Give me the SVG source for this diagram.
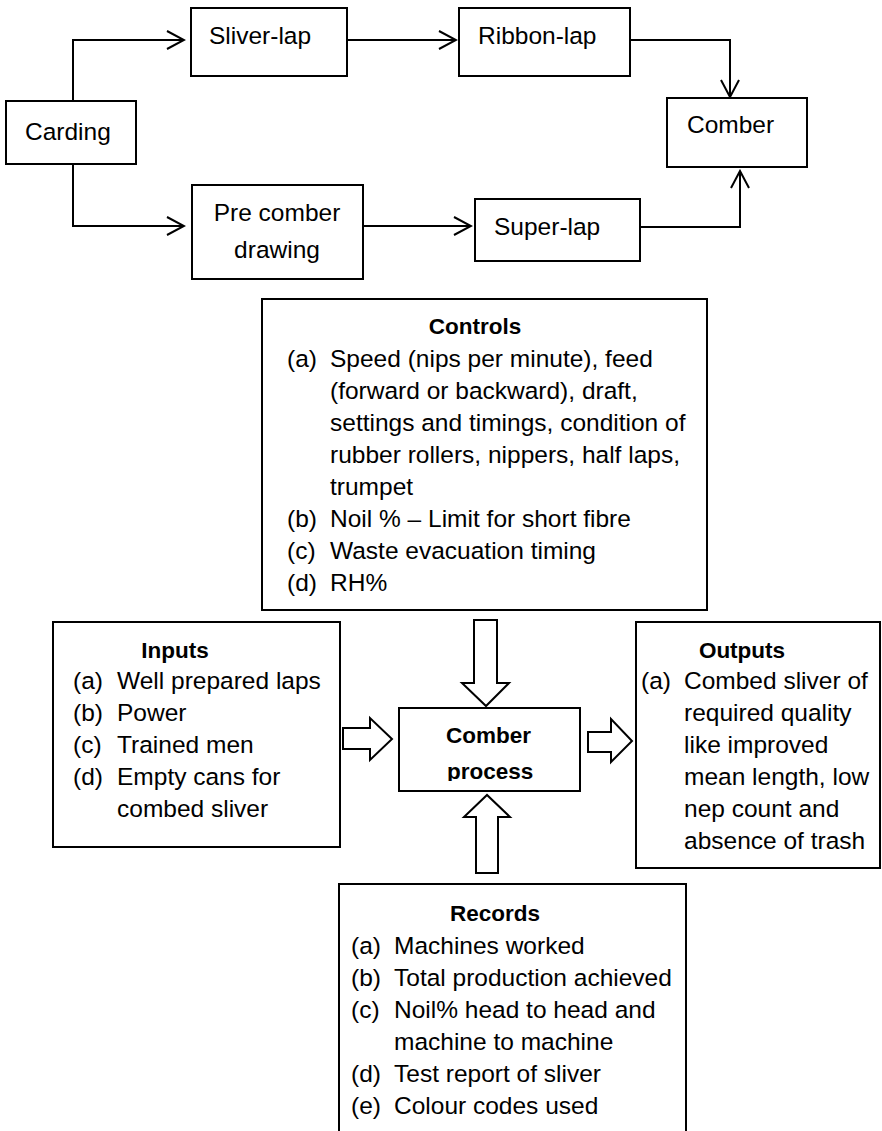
<svg xmlns="http://www.w3.org/2000/svg" width="882" height="1131" viewBox="0 0 882 1131">
  <style>
    .box { fill: #ffffff; stroke: #000000; stroke-width: 2; }
    .wire { fill: none; stroke: #000000; stroke-width: 2; }
    .block { fill: #ffffff; stroke: #000000; stroke-width: 2; stroke-linejoin: miter; }
    text { font-family: "Liberation Sans", Arial, sans-serif; font-size: 24.5px; fill: #000000; }
    .title { font-weight: bold; font-size: 22.5px; }
    .mid { text-anchor: middle; }
  </style>
  <defs>
    <marker id="chevron" viewBox="0 0 20 20" markerWidth="20" markerHeight="20" markerUnits="userSpaceOnUse" refX="18" refY="10" orient="auto">
      <path d="M1,1 L18,10 L1,19" fill="none" stroke="#000000" stroke-width="2"/>
    </marker>
    <clipPath id="processClip">
      <rect x="400" y="709" width="179" height="72"/>
    </clipPath>
  </defs>

  <!-- process flow -->
  <g id="carding">
    <rect class="box" x="6" y="101" width="130" height="63"/>
    <text x="25" y="140">Carding</text>
  </g>
  <g id="sliver-lap">
    <rect class="box" x="191" y="8" width="156" height="68"/>
    <text x="209" y="44">Sliver-lap</text>
  </g>
  <g id="ribbon-lap">
    <rect class="box" x="459" y="8" width="171" height="68"/>
    <text x="478" y="44">Ribbon-lap</text>
  </g>
  <g id="comber">
    <rect class="box" x="667" y="98" width="140" height="69"/>
    <text x="687" y="133">Comber</text>
  </g>
  <g id="pre-comber-drawing">
    <rect class="box" x="192" y="185" width="171" height="94"/>
    <text class="mid" x="277" y="221">Pre comber</text>
    <text class="mid" x="277" y="258">drawing</text>
  </g>
  <g id="super-lap">
    <rect class="box" x="475" y="199" width="165" height="62"/>
    <text x="494" y="235">Super-lap</text>
  </g>

  <g id="flow-connectors">
    <path class="wire" d="M73,101 V40 H184" marker-end="url(#chevron)"/>
    <path class="wire" d="M73,164 V226 H184" marker-end="url(#chevron)"/>
    <path class="wire" d="M347,40 H456" marker-end="url(#chevron)"/>
    <path class="wire" d="M363,226 H471" marker-end="url(#chevron)"/>
    <path class="wire" d="M630,40 H730 V97" marker-end="url(#chevron)"/>
    <path class="wire" d="M640,227 H740 V171" marker-end="url(#chevron)"/>
  </g>

  <!-- controls -->
  <g id="controls">
    <rect class="box" x="262" y="299" width="445" height="311"/>
    <text class="title mid" x="475" y="334">Controls</text>
    <text x="287" y="367">(a)</text>
    <text x="330" y="367">Speed (nips per minute), feed</text>
    <text x="330" y="399">(forward or backward), draft,</text>
    <text x="330" y="431">settings and timings, condition of</text>
    <text x="330" y="463">rubber rollers, nippers, half laps,</text>
    <text x="330" y="495">trumpet</text>
    <text x="287" y="527">(b)</text>
    <text x="330" y="527">Noil % – Limit for short fibre</text>
    <text x="287" y="559">(c)</text>
    <text x="330" y="559">Waste evacuation timing</text>
    <text x="287" y="591">(d)</text>
    <text x="330" y="591">RH%</text>
  </g>

  <!-- inputs -->
  <g id="inputs">
    <rect class="box" x="53" y="622" width="287" height="225"/>
    <text class="title mid" x="175" y="658">Inputs</text>
    <text x="73" y="689">(a)</text>
    <text x="117" y="689">Well prepared laps</text>
    <text x="73" y="721">(b)</text>
    <text x="117" y="721">Power</text>
    <text x="73" y="753">(c)</text>
    <text x="117" y="753">Trained men</text>
    <text x="73" y="785">(d)</text>
    <text x="117" y="785">Empty cans for</text>
    <text x="117" y="817">combed sliver</text>
  </g>

  <!-- central process -->
  <g id="comber-process">
    <rect class="box" x="399" y="708" width="181" height="83"/>
    <g clip-path="url(#processClip)">
      <text class="title" x="446" y="743">Comber</text>
      <text class="title" x="447" y="779">process</text>
    </g>
  </g>

  <!-- outputs -->
  <g id="outputs">
    <rect class="box" x="636" y="622" width="244" height="246"/>
    <text class="title mid" x="742" y="658">Outputs</text>
    <text x="641" y="689">(a)</text>
    <text x="684" y="689">Combed sliver of</text>
    <text x="684" y="721">required quality</text>
    <text x="684" y="753">like improved</text>
    <text x="684" y="785">mean length, low</text>
    <text x="684" y="817">nep count and</text>
    <text x="684" y="849">absence of trash</text>
  </g>

  <!-- records -->
  <g id="records">
    <path class="box" d="M339,1132 V884 H686 V1132"/>
    <text class="title mid" x="495" y="921">Records</text>
    <text x="351" y="954">(a)</text>
    <text x="394" y="954">Machines worked</text>
    <text x="351" y="986">(b)</text>
    <text x="394" y="986">Total production achieved</text>
    <text x="351" y="1018">(c)</text>
    <text x="394" y="1018">Noil% head to head and</text>
    <text x="394" y="1050">machine to machine</text>
    <text x="351" y="1082">(d)</text>
    <text x="394" y="1082">Test report of sliver</text>
    <text x="351" y="1114">(e)</text>
    <text x="394" y="1114">Colour codes used</text>
  </g>

  <!-- block arrows into and out of the process -->
  <g id="block-arrows">
    <polygon class="block" points="474,620 497,620 497,683 509,683 486,706 462,683 474,683"/>
    <polygon class="block" points="476,873 498,873 498,817 510,817 487,795 464,817 476,817"/>
    <polygon class="block" points="343,728 370,728 370,718 392,739 370,760 370,749 343,749"/>
    <polygon class="block" points="588,732 611,732 611,719 632,741 611,762 611,752 588,752"/>
  </g>
</svg>
